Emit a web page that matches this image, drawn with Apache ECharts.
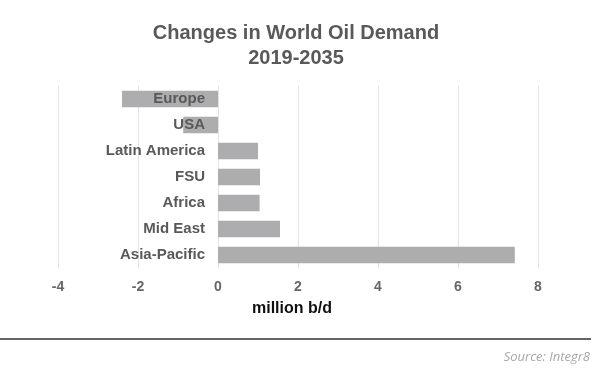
<!DOCTYPE html>
<html>
<head>
<meta charset="utf-8">
<script src="https://cdn.jsdelivr.net/npm/echarts@6/dist/echarts.min.js"></script>
<style>html,body{margin:0;padding:0;background:#fff}#c{width:600px;height:372px}</style>
</head>
<body>
<div id="c"></div>
<script>
const categories = ['Europe', 'USA', 'Latin America', 'FSU', 'Africa', 'Mid East', 'Asia-Pacific'];
const demandChange = [-2.4, -0.87, 1.0, 1.05, 1.04, 1.55, 7.42];
const xTicks = [-4, -2, 0, 2, 4, 6, 8];
const titleLines = ['Changes in World Oil Demand', '2019-2035'];
const axisTitle = 'million b/d';
const sourceText = 'Source: Integr8';

const gridLeft = 58, gridRight = 62, chartW = 600;
const xMin = xTicks[0], xMax = xTicks[xTicks.length - 1];
const plotW = chartW - gridLeft - gridRight;
const zeroOffset = -(0 - xMin) / (xMax - xMin) * plotW;

const chart = echarts.init(document.getElementById('c'));
chart.setOption({
  animation: false,
  backgroundColor: '#fff',
  title: {
    text: titleLines.join('\n'),
    left: 291, top: 16, textAlign: 'center',
    textStyle: { fontFamily: 'Liberation Sans, Arial', fontSize: 20, fontWeight: 'bold', color: '#595959', lineHeight: 25 }
  },
  grid: { left: gridLeft, right: gridRight, top: 86, bottom: 104, containLabel: false, outerBoundsMode: 'none' },
  xAxis: {
    type: 'value', min: xMin, max: xMax, interval: 2,
    axisLine: { show: false }, axisTick: { show: false },
    splitLine: { show: true, lineStyle: { color: '#e3e3e3', width: 1 } },
    axisLabel: { margin: 12, color: '#666', fontFamily: 'Liberation Sans, Arial', fontSize: 14, fontWeight: 'bold' }
  },
  yAxis: {
    type: 'category', data: categories, inverse: true, z: 5, offset: zeroOffset,
    axisLine: { show: false }, axisTick: { show: false },
    axisLabel: { margin: 13, color: '#595959', fontFamily: 'Liberation Sans, Arial', fontSize: 15, fontWeight: 'bold' }
  },
  series: [{
    type: 'bar', data: demandChange, barCategoryGap: '36%',
    itemStyle: { color: '#adadaf' }
  }],
  graphic: [
    { type: 'text', style: { text: axisTitle, x: 292, y: 309, textAlign: 'center', textVerticalAlign: 'middle', fontFamily: 'Liberation Sans, Arial', fontSize: 16, fontWeight: 'bold', fill: '#111' } },
    { type: 'line', shape: { x1: 0, y1: 339, x2: 591, y2: 339 }, style: { stroke: '#5f656b', lineWidth: 2 } },
    { type: 'text', style: { text: sourceText, x: 590, y: 357, textAlign: 'right', textVerticalAlign: 'middle', fontFamily: 'Open Sans', fontSize: 13, fontStyle: 'italic', fill: '#a8a8a8' } }
  ]
});
</script>
</body>
</html>
